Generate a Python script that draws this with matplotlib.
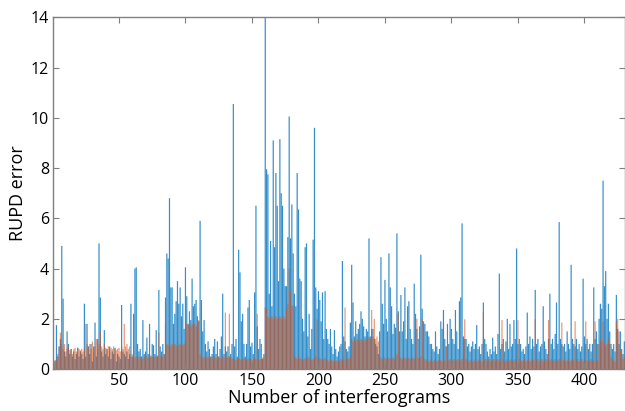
import numpy as np
import matplotlib
matplotlib.use("Agg")
import matplotlib.pyplot as plt

# RUPD error per interferogram, two methods (blue drawn first, orange on top)
blue_err = [
    0.3, 0.35, 1.75, 0.5, 0.9, 1.2, 4.9, 2.8, 0.7, 0.5,
    1.5, 1.0, 0.6, 0.8, 0.5, 0.7, 0.4, 0.6, 0.85, 0.5,
    0.7, 0.6, 0.4, 2.6, 0.5, 1.8, 0.9, 0.6, 1.0, 0.3,
    0.9, 1.85, 0.5, 1.2, 5.0, 2.85, 0.7, 0.5, 1.55, 0.6,
    0.8, 0.5, 0.9, 0.4, 0.7, 0.6, 0.85, 0.3, 0.6, 0.5,
    0.4, 2.55, 0.7, 0.6, 0.5, 0.7, 0.4, 0.6, 2.6, 0.5,
    2.2, 4.0, 4.05, 1.0, 0.7, 0.8, 0.5, 1.95, 0.6, 0.7,
    1.25, 0.6, 1.8, 0.5, 1.0, 0.95, 0.6, 1.55, 0.5, 3.15,
    0.9, 0.7, 1.0, 0.6, 2.85, 4.6, 4.4, 6.8, 3.25, 3.25,
    1.8, 2.2, 2.7, 3.5, 2.6, 3.25, 2.1, 2.6, 1.6, 4.05,
    2.9, 1.8, 2.3, 1.95, 3.6, 2.5, 2.6, 2.75, 2.1, 1.9,
    5.9, 2.75, 1.5, 1.95, 1.0, 0.7, 1.1, 0.8, 0.5, 0.6,
    0.9, 1.2, 0.6, 1.1, 0.5, 0.8, 1.3, 3.0, 0.6, 0.9,
    0.7, 0.9, 0.5, 0.6, 1.0, 10.55, 0.9, 1.2, 0.5, 4.75,
    3.85, 1.9, 2.2, 1.0, 0.5, 1.0, 2.45, 2.75, 0.9, 1.05,
    0.6, 3.05, 6.5, 1.7, 0.8, 1.2, 1.0, 0.4, 0.6, 14.0,
    7.95, 7.75, 3.0, 5.1, 2.5, 9.1, 4.85, 7.8, 6.5, 3.5,
    9.15, 7.0, 6.5, 4.0, 3.3, 3.3, 5.25, 10.05, 5.2, 6.55,
    4.6, 3.0, 2.5, 7.8, 6.35, 3.6, 3.5, 2.0, 1.5, 4.85,
    5.0, 1.3, 2.2, 0.8, 1.6, 5.15, 9.6, 3.25, 2.4, 3.1,
    2.75, 1.9, 3.05, 1.2, 3.1, 1.6, 1.2, 1.0, 1.6, 0.9,
    0.6, 1.55, 0.8, 0.5, 0.7, 0.9, 1.0, 4.3, 1.3, 1.1,
    0.8, 0.7, 0.9, 1.85, 4.15, 2.65, 1.3, 1.9, 1.4, 1.6,
    1.8, 2.3, 2.0, 1.7, 1.3, 1.6, 1.5, 5.2, 1.3, 1.6,
    1.6, 1.2, 1.0, 0.9, 0.6, 1.5, 4.45, 2.6, 1.8, 3.55,
    2.0, 1.5, 4.6, 3.25, 2.5, 1.4, 1.8, 1.65, 5.4, 2.3,
    1.5, 2.95, 1.5, 1.9, 3.25, 1.2, 2.5, 2.7, 1.6, 1.2,
    1.0, 3.4, 2.2, 1.6, 1.2, 1.7, 4.55, 2.4, 1.9, 1.8,
    1.5, 1.5, 1.3, 1.0, 1.0, 0.8, 0.7, 1.5, 0.9, 0.6,
    0.8, 1.9, 1.6, 2.35, 1.2, 0.9, 1.8, 1.0, 2.0, 1.6,
    1.2, 1.0, 2.35, 1.5, 0.8, 2.7, 2.85, 5.8, 1.3, 1.2,
    1.2, 0.9, 1.0, 0.7, 0.9, 1.1, 0.8, 1.0, 1.75, 0.8,
    0.9, 0.6, 1.0, 2.65, 1.2, 1.0, 0.7, 0.5, 0.8, 0.6,
    1.25, 0.7, 0.9, 0.6, 1.4, 3.8, 0.8, 1.0, 1.2, 0.7,
    1.1, 2.0, 0.8, 1.8, 0.9, 1.0, 1.95, 1.2, 4.8, 1.0,
    1.2, 1.0, 0.7, 0.8, 0.6, 0.9, 2.25, 1.0, 1.3, 0.8,
    1.2, 0.9, 3.15, 1.0, 1.2, 0.7, 0.9, 1.0, 2.5, 1.1,
    0.8, 0.6, 1.2, 3.0, 1.0, 1.2, 0.8, 1.4, 2.65, 1.0,
    5.85, 1.2, 1.0, 0.9, 1.0, 0.7, 1.5, 1.0, 0.8, 4.15,
    1.2, 1.0, 0.9, 1.2, 0.8, 1.0, 0.7, 0.9, 3.6, 1.3,
    1.0, 1.2, 0.8, 1.0, 0.7, 1.0, 3.25, 1.2, 1.5, 1.0,
    2.0, 2.6, 2.4, 7.5, 3.3, 3.9, 2.0, 2.6, 1.5, 1.0,
    0.8, 1.0, 0.7, 2.95, 1.6, 1.0, 1.5, 0.8, 0.6, 1.1,
]

orange_err = [
    0.3, 0.3, 0.4, 0.6, 0.9, 1.45, 1.0, 0.8, 1.0, 0.7,
    0.8, 0.9, 0.75, 0.8, 0.6, 0.8, 0.85, 0.7, 0.85, 0.8,
    0.75, 0.8, 0.7, 0.8, 1.8, 1.0, 0.9, 1.0, 0.8, 1.1,
    0.7, 0.9, 1.2, 0.8, 1.0, 1.5, 0.9, 0.8, 1.0, 0.85,
    0.8, 0.9, 0.75, 0.85, 0.8, 0.9, 0.8, 0.75, 0.8, 0.85,
    0.7, 0.9, 0.8, 1.8, 0.9, 1.0, 0.8, 0.9, 0.5, 0.6,
    0.5, 0.45, 0.5, 0.4, 0.5, 0.45, 0.5, 0.4, 0.5, 0.55,
    0.5, 0.45, 0.5, 0.55, 0.5, 0.45, 0.5, 0.5, 0.55, 1.45,
    0.5, 0.55, 0.5, 0.6, 1.85, 1.0, 0.95, 1.0, 0.9, 1.0,
    0.95, 1.0, 0.9, 1.05, 0.95, 1.0, 0.9, 0.95, 1.0, 1.1,
    1.8, 1.75, 1.8, 1.7, 1.8, 1.75, 1.8, 1.7, 1.75, 1.95,
    0.6, 0.5, 0.45, 0.5, 0.4, 0.45, 0.5, 0.4, 0.45, 0.5,
    0.4, 0.5, 0.45, 0.4, 0.5, 0.45, 0.4, 0.5, 0.45, 2.25,
    0.5, 0.45, 2.2, 0.5, 0.4, 0.45, 0.4, 0.35, 0.4, 0.45,
    0.4, 0.35, 0.4, 0.45, 0.4, 0.35, 0.4, 0.45, 0.4, 0.35,
    0.4, 0.45, 0.4, 2.2, 0.4, 0.35, 0.4, 0.45, 0.5, 2.45,
    2.4, 2.1, 2.0, 2.05, 2.1, 2.0, 2.05, 2.1, 2.0, 2.05,
    2.1, 2.0, 2.05, 2.1, 2.0, 2.4, 2.6, 4.0, 3.1, 2.5,
    2.55, 0.5, 0.45, 0.4, 0.5, 0.45, 0.4, 0.35, 0.4, 0.45,
    0.4, 0.5, 0.45, 0.4, 0.35, 0.4, 0.45, 0.5, 1.98, 0.4,
    0.45, 0.4, 0.35, 0.4, 0.45, 0.4, 0.35, 0.3, 0.4, 0.35,
    0.3, 0.35, 0.3, 0.35, 0.3, 0.35, 0.4, 0.35, 0.4, 2.45,
    0.4, 0.45, 0.4, 0.5, 1.2, 1.1, 1.15, 1.1, 1.2, 1.15,
    1.1, 1.2, 1.15, 1.1, 1.2, 1.15, 1.3, 1.25, 1.2, 2.35,
    1.3, 2.0, 1.2, 1.3, 1.1, 0.5, 0.45, 0.4, 0.5, 0.45,
    0.4, 0.5, 0.45, 0.4, 0.5, 0.45, 0.4, 0.5, 0.6, 2.2,
    0.5, 0.45, 0.4, 0.5, 0.45, 0.4, 0.5, 0.45, 0.4, 0.5,
    0.45, 0.4, 0.5, 2.0, 0.45, 0.4, 0.5, 2.0, 0.45, 0.4,
    0.35, 0.4, 0.3, 0.35, 0.4, 0.3, 0.35, 0.4, 0.3, 0.35,
    0.4, 0.35, 0.3, 1.85, 0.35, 0.9, 0.3, 0.35, 0.4, 0.3,
    0.35, 0.4, 0.3, 0.35, 0.4, 0.3, 0.35, 0.4, 0.5, 1.98,
    0.4, 0.35, 0.3, 0.35, 0.4, 0.3, 0.35, 0.4, 0.3, 0.35,
    0.4, 0.35, 0.3, 2.25, 0.35, 0.4, 0.3, 0.35, 0.4, 0.3,
    0.35, 0.4, 0.3, 0.35, 0.4, 0.3, 0.35, 1.95, 0.4, 0.3,
    0.35, 0.4, 0.3, 0.35, 0.4, 0.3, 0.35, 0.4, 0.3, 1.95,
    0.4, 0.35, 0.3, 0.35, 0.4, 0.3, 0.35, 0.4, 0.3, 0.35,
    0.4, 0.35, 1.98, 0.35, 0.4, 0.3, 0.35, 0.4, 0.3, 0.35,
    0.4, 0.35, 1.95, 0.35, 0.4, 0.3, 0.35, 0.4, 0.3, 0.35,
    0.4, 0.35, 1.85, 0.35, 0.4, 0.3, 0.35, 0.4, 0.3, 0.35,
    0.4, 0.35, 1.9, 0.35, 0.4, 0.3, 0.35, 0.4, 0.3, 0.35,
    1.9, 0.35, 0.3, 0.35, 0.4, 0.3, 0.35, 1.9, 0.3, 0.35,
    1.0, 1.2, 1.1, 1.9, 1.0, 0.9, 1.0, 1.2, 1.0, 0.5,
    0.4, 0.35, 0.3, 1.9, 2.0, 1.5, 0.8, 0.6, 0.4, 0.5,
]

x_ticks = [50, 100, 150, 200, 250, 300, 350, 400]
y_ticks = [0, 2, 4, 6, 8, 10, 12, 14]

plt.rcParams['font.family'] = ['Open Sans', 'DejaVu Sans']

fig = plt.figure(figsize=(6.25, 4.11), dpi=100)
ax = fig.add_axes([0.085, 0.102, 0.915, 0.856])

idx = np.arange(1, len(blue_err) + 1)
ax.bar(idx, blue_err, width=0.9, color='#0072BD', alpha=0.8,
       linewidth=0, snap=False)
ax.bar(idx, orange_err, width=0.9, color='#D95319', alpha=0.6,
       linewidth=0, snap=False)

ax.set_xlim(0.5, len(blue_err) + 0.5)
ax.set_ylim(0, 14)
ax.set_xticks(x_ticks)
ax.set_yticks(y_ticks)
ax.tick_params(direction='in', top=True, right=True, length=4,
               color='#808080', labelsize=11.5, pad=3)
for s in ax.spines.values():
    s.set_color('#808080')
    s.set_linewidth(1.0)

ax.set_xlabel('Number of interferograms', fontsize=13, labelpad=0)
ax.set_ylabel('RUPD error', fontsize=13, labelpad=3)

fig.savefig('out.png', dpi=100)
